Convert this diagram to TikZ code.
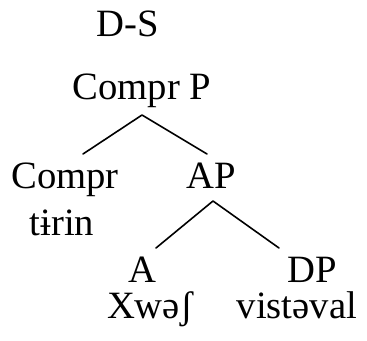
\documentclass[tikz,border=0pt]{standalone}
\usepackage{fontspec}
\setmainfont{Liberation Serif}
\tikzset{
  lbl/.style={anchor=base,inner sep=0pt,font=\fontsize{29}{33}\selectfont},
  branch/.style={line width=1.2pt}
}
\begin{document}
\begin{tikzpicture}[x=0.75pt,y=-0.75pt,line cap=round,line join=round]
\path[use as bounding box] (0,0) rectangle (367,340);
% labels
\node[lbl] (ds) at (128,36) {D-S};
\node[lbl] (comprp) at (142,99) {Compr P};
\node[lbl] (compr) at (65,188) {Compr};
\node[lbl] (tirin) at (62,235) {tɨrin};
\node[lbl] (ap) at (211,188) {AP};
\node[lbl] (a) at (142,282) {A};
\node[lbl] (xwesh) at (150,318) {Xwəʃ};
\node[lbl] (dp) at (312,282) {DP};
\node[lbl] (vistaval) at (297,318) {vistəval};
% branch points
\coordinate (comprp-top) at (142,115);
\coordinate (compr-top) at (83,154);
\coordinate (ap-in) at (207,154);
\coordinate (ap-top) at (213,201);
\coordinate (a-top) at (156,248);
\coordinate (dp-top) at (279,248);
\draw[branch] (compr-top) -- (comprp-top) -- (ap-in);
\draw[branch] (a-top) -- (ap-top) -- (dp-top);
\end{tikzpicture}
\end{document}
